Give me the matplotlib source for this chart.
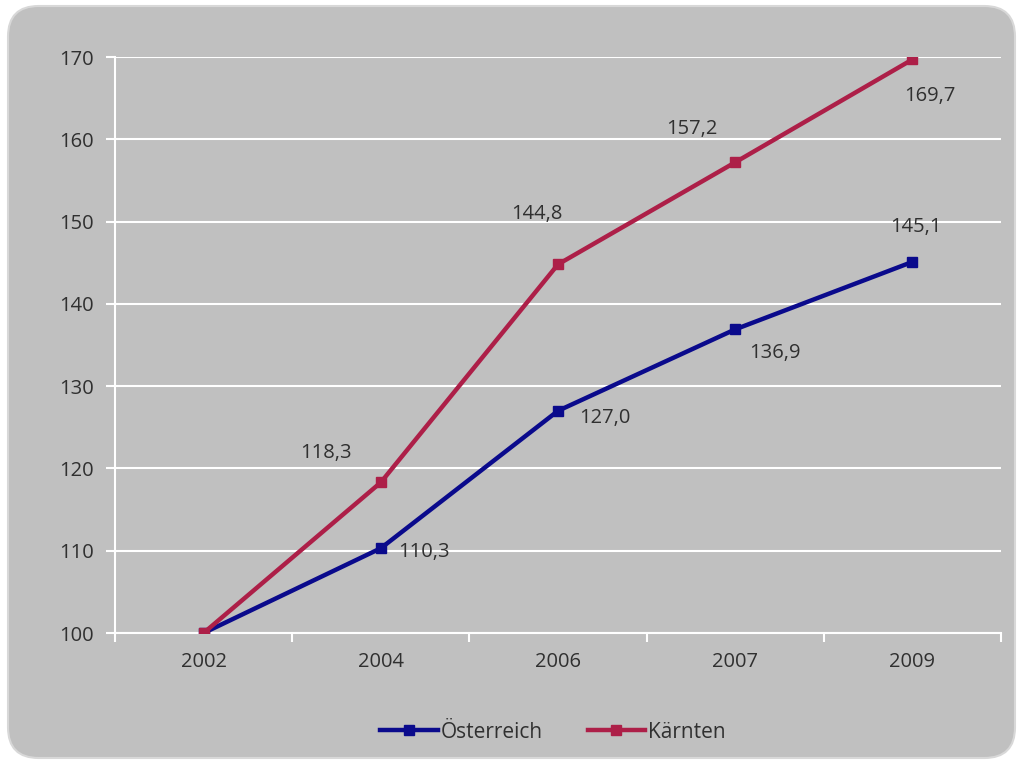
import matplotlib.pyplot as plt
from matplotlib.patches import FancyBboxPatch

years = ["2002", "2004", "2006", "2007", "2009"]
oesterreich = [100.0, 110.3, 127.0, 136.9, 145.1]
kaernten = [100.0, 118.3, 144.8, 157.2, 169.7]

# label offsets in pixels (first point has no label)
oe_offsets = [None, (43, -4), (47, -7), (40, -24), (4, 35)]
ka_offsets = [None, (-55, 29), (-21, 50), (-43, 33), (17, -37)]

plt.rcParams['font.family'] = ['Open Sans', 'DejaVu Sans']

fig = plt.figure(figsize=(10.23, 7.62), dpi=100)
fig.patch.set_facecolor("white")

# rounded gray chart frame, behind the axes
frame = FancyBboxPatch((8 / 1023, 4 / 762), 1007 / 1023, 752 / 762,
                       boxstyle="round,pad=0,rounding_size=0.03",
                       transform=fig.transFigure, facecolor="#c0c0c0",
                       edgecolor="#d8d8d8", linewidth=1.5, mutation_aspect=1023 / 762,
                       zorder=-10)
fig.patches.append(frame)

ax = fig.add_axes([115 / 1023, 1 - 633 / 762, 886 / 1023, 576 / 762])
ax.set_facecolor("#c0c0c0")

x = list(range(len(years)))
blue = "#0a0a8c"
red = "#ad1f48"
ax.plot(x, oesterreich, color=blue, lw=3.2, marker="s", ms=7, label="Österreich", zorder=3)
ax.plot(x, kaernten, color=red, lw=3.2, marker="s", ms=7, label="Kärnten", zorder=4)

for i in x:
    if oe_offsets[i] is not None:
        ax.annotate(f"{oesterreich[i]:.1f}".replace(".", ","), (i, oesterreich[i]),
                    xytext=oe_offsets[i], textcoords="offset pixels",
                    ha="center", va="center", fontsize=14.5, color="#303030")
    if ka_offsets[i] is not None:
        ax.annotate(f"{kaernten[i]:.1f}".replace(".", ","), (i, kaernten[i]),
                    xytext=ka_offsets[i], textcoords="offset pixels",
                    ha="center", va="center", fontsize=14.5, color="#303030")

ax.set_xlim(-0.5, len(years) - 0.5)
ax.set_ylim(100, 170)
ax.set_yticks(range(100, 171, 10))
ax.set_xticks(x)
ax.set_xticklabels(years)
ax.set_xticks([i - 0.5 for i in range(len(years) + 1)], minor=True)
ax.grid(axis="y", color="white", lw=1.5, zorder=0)

for s in ["top", "right"]:
    ax.spines[s].set_visible(False)
for s in ["left", "bottom"]:
    ax.spines[s].set_color("white")
    ax.spines[s].set_linewidth(1.5)
    ax.spines[s].set_zorder(1)

ax.tick_params(axis="y", colors="white", labelcolor="#303030", length=6.5, width=1.5,
               labelsize=14.5, pad=9)
ax.tick_params(axis="x", which="major", length=0, labelcolor="#303030", labelsize=14.5, pad=14)
ax.tick_params(axis="x", which="minor", colors="white", length=6.5, width=1.5)

fig.legend(loc="center", bbox_to_anchor=(553 / 1023, 1 - 732 / 762), ncol=2,
           frameon=False, fontsize=15, handlelength=2.75, handletextpad=0.15,
           columnspacing=2.15, labelcolor="#303030")

fig.savefig("out.png", dpi=100, facecolor="white")
